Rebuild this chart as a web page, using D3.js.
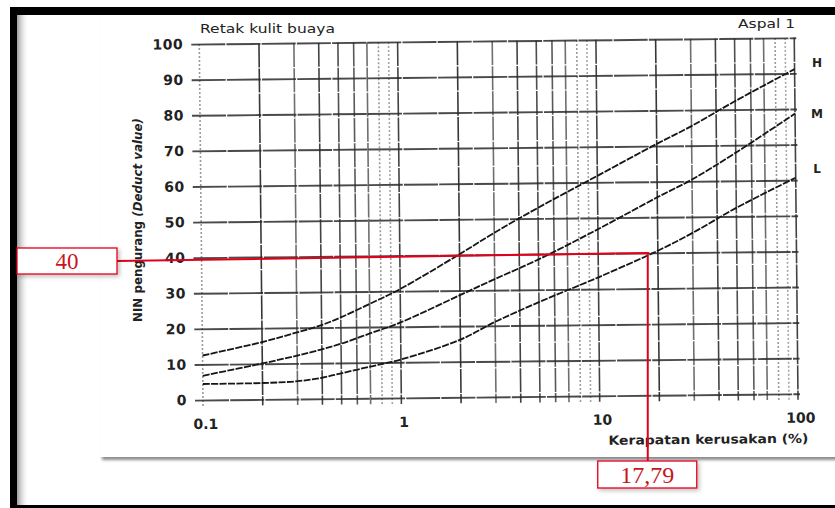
<!DOCTYPE html>
<html>
<head>
<meta charset="utf-8">
<script src="https://cdn.jsdelivr.net/npm/d3@7"></script>
<style>
  body { margin: 0; background: #fff; }
  svg { display: block; }
</style>
</head>
<body>
<div id="canvas"></div>
<script>
// damage density (%) and deduct values
const densities = [0.1, 0.2, 0.3, 0.4, 0.5, 0.7, 1, 2, 3, 5, 10, 20, 30, 50, 100];
const highValues = [12.5, 16.1, 18.7, 20.7, 22.8, 26.5, 30.6, 40.2, 46.1, 53, 61.8, 70.6, 75.5, 82.4, 91.2];
const mediumValues = [6.8, 10.1, 12.2, 13.9, 15.4, 18.2, 21.2, 28.7, 33.1, 38.5, 46.8, 55.6, 60.5, 67.9, 78.7];
const lowValues = [4.5, 4.6, 5, 5.9, 7.1, 8.9, 10.8, 16.2, 21.1, 26.5, 33.3, 40.6, 45.5, 52.4, 60.7];
const seriesNames = ["H", "M", "L"];

const xTickValues = [0.1, 1, 10, 100];
const xTickLabels = ["0.1", "1", "10", "100"];
const yTickValues = [0, 10, 20, 30, 40, 50, 60, 70, 80, 90, 100];

const readDensity = 17.79;
const readDeduct = 40;
const readDensityLabel = "17,79";
const readDeductLabel = "40";

const W = 835, H = 508;
const tilt = -0.6; // the scanned chart sits slightly rotated
const x0 = 203, y0 = 400;

const x = d3.scaleLog().domain([0.1, 100]).range([x0, 798]);
const y = d3.scaleLinear().domain([0, 100]).range([y0, 44]);

const svg = d3.select("#canvas").append("svg")
  .attr("width", W).attr("height", H);

const defs = svg.append("defs");
const shadow = defs.append("filter").attr("id", "shadow")
  .attr("x", "-10%").attr("y", "-10%").attr("width", "130%").attr("height", "130%");
shadow.append("feDropShadow").attr("dx", 2).attr("dy", 3)
  .attr("stdDeviation", 1.6).attr("flood-color", "#000").attr("flood-opacity", 0.45);
const boxShadow = defs.append("filter").attr("id", "boxShadow")
  .attr("x", "-20%").attr("y", "-30%").attr("width", "150%").attr("height", "170%");
boxShadow.append("feDropShadow").attr("dx", 2).attr("dy", 2)
  .attr("stdDeviation", 2).attr("flood-color", "#000").attr("flood-opacity", 0.25);
const edge = defs.append("linearGradient").attr("id", "edge");
edge.append("stop").attr("offset", "0%").attr("stop-color", "#9a9a9a");
edge.append("stop").attr("offset", "100%").attr("stop-color", "#fff").attr("stop-opacity", 0);

svg.append("rect").attr("width", W).attr("height", H).attr("fill", "#fff");

// scanned chart panel
svg.append("rect")
  .attr("x", 100).attr("y", 10).attr("width", 760).attr("height", 447)
  .attr("fill", "#fff").attr("filter", "url(#shadow)");

const chart = svg.append("g")
  .attr("transform", `rotate(${tilt},${x0},${y0})`)
  .style("font-family", "'DejaVu Sans', sans-serif")
  .style("fill", "#222");

// vertical grid (log minors)
const mult = (v) => Math.round(v / Math.pow(10, Math.floor(Math.log10(v) + 1e-9)));
const gridOpacity = { 1: 0.85, 2: 0.9, 3: 0.65, 4: 0.85, 5: 0.8, 6: 0.75, 7: 0.65, 8: 0.45, 9: 0.4 };
chart.append("g").attr("class", "vgrid")
  .selectAll("line")
  .data(x.ticks())
  .join("line")
  .attr("x1", (d) => x(d)).attr("x2", (d) => x(d))
  .attr("y1", y(100)).attr("y2", y(0) + 6)
  .attr("stroke", "#222")
  .attr("stroke-width", 1.6)
  .attr("opacity", (d) => (d === 0.1 ? 0.45 : gridOpacity[mult(d)]))
  .attr("stroke-dasharray", (d) => (d === 0.1 || gridOpacity[mult(d)] < 0.5 ? "2,2" : "24,1.2"));

// horizontal grid
chart.append("g").attr("class", "grid")
  .attr("transform", "translate(195,0)")
  .call(d3.axisLeft(y).tickValues(yTickValues).tickSize(-605).tickFormat(""))
  .call((g) => g.select(".domain").remove())
  .call((g) => g.selectAll("line")
    .attr("stroke", "#2a2a2a").attr("stroke-width", 1.9)
    .attr("opacity", 0.85).attr("stroke-dasharray", "34,1.2"));

// y tick labels
chart.append("g")
  .attr("transform", "translate(195,0)")
  .call(d3.axisLeft(y).tickValues(yTickValues).tickSize(0).tickPadding(8))
  .call((g) => g.select(".domain").remove())
  .call((g) => g.selectAll("text")
    .style("font-family", "'DejaVu Sans', sans-serif")
    .style("font-size", "14px").style("font-weight", "bold")
    .style("letter-spacing", "0.5px").attr("fill", "#222"));

// x tick labels
chart.append("g")
  .attr("transform", `translate(2,${y0})`)
  .call(d3.axisBottom(x).tickValues(xTickValues)
    .tickFormat((d, i) => xTickLabels[i]).tickSize(0).tickPadding(19))
  .call((g) => g.select(".domain").remove())
  .call((g) => g.selectAll("text")
    .style("font-family", "'DejaVu Sans', sans-serif")
    .style("font-size", "14px").style("font-weight", "bold")
    .attr("fill", "#222"));

chart.append("text")
  .attr("x", 708).attr("y", 449)
  .attr("text-anchor", "middle")
  .attr("textLength", 200).attr("lengthAdjust", "spacingAndGlyphs")
  .style("font-size", "12.5px").style("font-weight", "bold")
  .text("Kerapatan kerusakan (%)");

// curves
const curveData = [highValues, mediumValues, lowValues].map((vals) =>
  densities.map((d, i) => [d, vals[i]])
);
const line = d3.line()
  .x((d) => x(d[0]))
  .y((d) => y(d[1]))
  .curve(d3.curveCatmullRom.alpha(0.5));
chart.append("g").selectAll("path")
  .data(curveData)
  .join("path")
  .attr("d", line)
  .attr("fill", "none")
  .attr("stroke", "#161616")
  .attr("stroke-width", 1.8)
  .attr("stroke-dasharray", "7,1.4");

// titles and curve labels
const labels = svg.append("g")
  .style("font-family", "'DejaVu Sans', sans-serif")
  .attr("fill", "#222");
labels.append("text").attr("x", 200).attr("y", 33)
  .attr("textLength", 135).attr("lengthAdjust", "spacingAndGlyphs")
  .style("font-size", "12.5px").text("Retak kulit buaya");
labels.append("text").attr("x", 795).attr("y", 28)
  .attr("text-anchor", "end")
  .attr("textLength", 57).attr("lengthAdjust", "spacingAndGlyphs")
  .style("font-size", "12.5px").text("Aspal 1");
labels.selectAll(".sname")
  .data(seriesNames)
  .join("text")
  .attr("class", "sname")
  .attr("x", 817)
  .attr("y", (d, i) => [67, 118, 173][i])
  .attr("text-anchor", "middle")
  .style("font-size", "12px").style("font-weight", "bold")
  .text((d) => d);
labels.append("text")
  .attr("transform", "translate(142,220) rotate(-90)")
  .attr("text-anchor", "middle")
  .attr("textLength", 204).attr("lengthAdjust", "spacingAndGlyphs")
  .style("font-size", "11.5px").style("font-weight", "bold")
  .text("NIN pengurang ")
  .append("tspan").style("font-style", "italic").text("(Deduct value)");

// frame
svg.append("rect").attr("x", 17).attr("y", 15).attr("width", 12).attr("height", 490)
  .attr("fill", "url(#edge)");
svg.append("rect").attr("x", 10).attr("y", 7).attr("width", W - 10).attr("height", 8).attr("fill", "#000");
svg.append("rect").attr("x", 10).attr("y", 7).attr("width", 7).attr("height", H - 7).attr("fill", "#000");
svg.append("rect").attr("x", 10).attr("y", 505).attr("width", W - 10).attr("height", 3).attr("fill", "#000");

// red reading annotation
const rad = (tilt * Math.PI) / 180;
const px = x(readDensity) - x0, py = y(readDeduct) - y0;
const cornerX = x0 + px * Math.cos(rad) - py * Math.sin(rad);
const cornerY = y0 + px * Math.sin(rad) + py * Math.cos(rad);

const red = "#e3001b";
const box40 = { x: 17, y: 248, w: 100, h: 26 };
const boxX = { x: cornerX - 50, y: 461, w: 99, h: 27 };

svg.append("polyline")
  .attr("points", [
    [box40.x + box40.w, box40.y + box40.h / 2],
    [cornerX, cornerY],
    [cornerX, boxX.y],
  ].join(" "))
  .attr("fill", "none")
  .attr("stroke", red)
  .attr("stroke-width", 2);

[[box40, readDeductLabel, 23], [boxX, readDensityLabel, 24]].forEach(([b, t, fs]) => {
  svg.append("rect")
    .attr("x", b.x).attr("y", b.y).attr("width", b.w).attr("height", b.h)
    .attr("fill", "#fff").attr("stroke", red).attr("stroke-width", 1.3)
    .attr("filter", "url(#boxShadow)");
  svg.append("text")
    .attr("x", b.x + b.w / 2).attr("y", b.y + b.h / 2 + fs * 0.34)
    .attr("text-anchor", "middle")
    .style("font-family", "'Liberation Serif', serif")
    .style("font-size", fs + "px")
    .attr("fill", "#c8161d")
    .text(t);
});
</script>
</body>
</html>
